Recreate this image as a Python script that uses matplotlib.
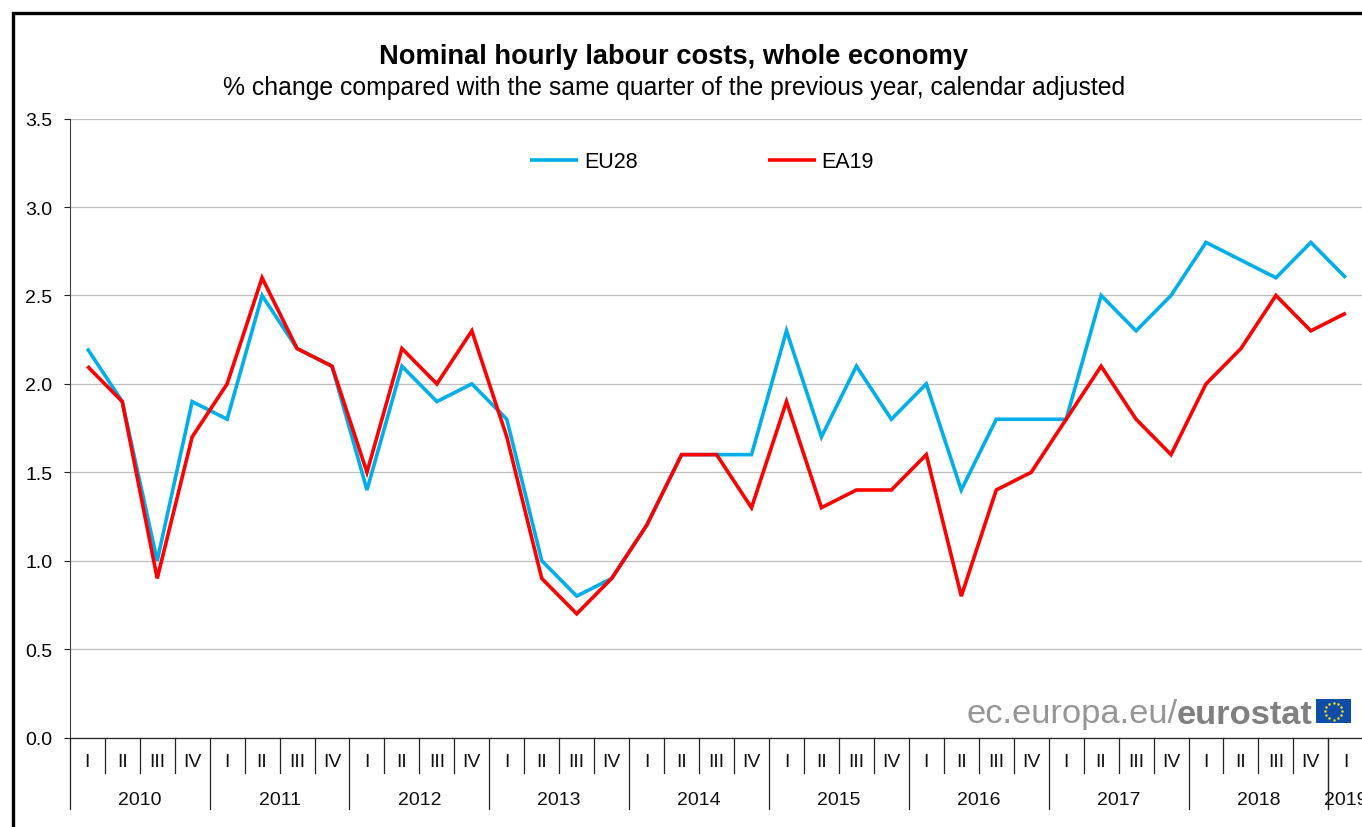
#!/usr/bin/env python

import matplotlib
matplotlib.use("agg")
matplotlib.rc("font", size=14, family=["Liberation Sans", "DejaVu Sans"])
import numpy as np
import matplotlib.pyplot as plt
from matplotlib.patches import Rectangle
from matplotlib.transforms import ScaledTranslation

W, H = 1362, 827

years = ["2010", "2011", "2012", "2013", "2014", "2015", "2016", "2017", "2018", "2019"]
quarters = ["I", "II", "III", "IV"] * 9 + ["I"]
eu28 = [2.2, 1.9, 1.0, 1.9, 1.8, 2.5, 2.2, 2.1, 1.4, 2.1, 1.9, 2.0,
        1.8, 1.0, 0.8, 0.9, 1.2, 1.6, 1.6, 1.6, 2.3, 1.7, 2.1, 1.8,
        2.0, 1.4, 1.8, 1.8, 1.8, 2.5, 2.3, 2.5, 2.8, 2.7, 2.6, 2.8, 2.6]
ea19 = [2.1, 1.9, 0.9, 1.7, 2.0, 2.6, 2.2, 2.1, 1.5, 2.2, 2.0, 2.3,
        1.7, 0.9, 0.7, 0.9, 1.2, 1.6, 1.6, 1.3, 1.9, 1.3, 1.4, 1.4,
        1.6, 0.8, 1.4, 1.5, 1.8, 2.1, 1.8, 1.6, 2.0, 2.2, 2.5, 2.3, 2.4]
yticks = [0.0, 0.5, 1.0, 1.5, 2.0, 2.5, 3.0, 3.5]


def fx(px):
    return px / W


def fy(py):
    return 1 - py / H


def main():
    fig = plt.figure(figsize=(W / 100, H / 100), dpi=100)

    # axes run past the right edge, the 2019 label is cut off like the original
    left, right, top, bottom = 69.8, 69.8 + 37 * 34.96, 118.6, 737.6
    ax = fig.add_axes([fx(left), fy(bottom), (right - left) / W, (bottom - top) / H])

    xx = np.arange(len(eu28)) + 0.5
    ax.plot(xx, eu28, color="#00AEEA", lw=2.6, label="EU28", solid_joinstyle="miter",
            solid_capstyle="butt")
    ax.plot(xx, ea19, color="#FF0000", lw=2.6, label="EA19", solid_joinstyle="miter",
            solid_capstyle="butt")

    ax.set_xlim(0, len(eu28))
    ax.set_ylim(0, 3.5)
    ax.set_yticks(yticks)
    ax.set_yticklabels(["%.1f" % t for t in yticks], fontsize=14)
    ax.tick_params(axis="y", length=4.5, width=0.8, pad=8, color="#222222")
    nudge = ScaledTranslation(0, -1 / 100, fig.dpi_scale_trans)
    for lab in ax.get_yticklabels():
        lab.set_transform(lab.get_transform() + nudge)
    ax.set_xticks([])
    ax.grid(axis="y", color="#BEBEBE", lw=0.9)
    ax.set_axisbelow(True)
    for side in ["top", "right"]:
        ax.spines[side].set_visible(False)
    ax.spines["left"].set_color("#444444")
    ax.spines["left"].set_linewidth(0.8)
    ax.spines["bottom"].set_color("#222222")
    ax.spines["bottom"].set_linewidth(0.9)

    # two level category axis below the plot
    unit = 3.5 / (bottom - top)
    for i, q in enumerate(quarters):
        ax.text(i + 0.5, -25 * unit, q, ha="center", va="center", fontsize=14, color="#111111")
        if i % 4 == 0:
            ax.plot([i, i], [0, -71 * unit], color="#222222", lw=0.9, clip_on=False)
        else:
            ax.plot([i, i], [0, -35 * unit], color="#222222", lw=0.9, clip_on=False)
    for j, y in enumerate(years):
        cx = j * 4 + 2 if y != "2019" else 36.5
        ax.text(cx, -63 * unit, y, ha="center", va="center", fontsize=14, color="#111111")
    ax.plot([36, 36], [0, -71 * unit], color="#222222", lw=0.9, clip_on=False)

    ax.legend(loc="center left", bbox_to_anchor=(fx(530), fy(162)),
              bbox_transform=fig.transFigure, ncol=2, frameon=False, fontsize=15.5,
              borderpad=0, borderaxespad=0, handlelength=2.23, handletextpad=0.28,
              columnspacing=6.04)

    fig.text(fx(673.5), fy(57), "Nominal hourly labour costs, whole economy",
             ha="center", va="center", fontsize=19.6, fontweight="bold")
    fig.text(fx(674.5), fy(88), "% change compared with the same quarter of the previous year, calendar adjusted",
             ha="center", va="center", fontsize=17.8)

    # watermark
    fig.text(fx(966), fy(715), "ec.europa.eu/", ha="left", va="center", fontsize=24.8, color="#969696")
    fig.text(fx(1312), fy(715), "eurostat", ha="right", va="center", fontsize=24.8,
             fontweight="bold", color="#808080")
    fig.add_artist(Rectangle((fx(1316), fy(723)), 35 / W, 24 / H, transform=fig.transFigure,
                             facecolor="#0F4DA8", edgecolor="none"))
    ang = np.arange(12) * np.pi / 6
    fig.add_artist(plt.Line2D(fx(1333.5 + 8.5 * np.cos(ang)), fy(711 + 8.5 * np.sin(ang)),
                              transform=fig.transFigure, ls="none", marker="o", ms=1.8,
                              color="#F5D90A", mew=0))

    # chart frame, only top and left are inside the picture
    fig.add_artist(plt.Line2D([fx(13), fx(13), fx(1362)], [0, fy(12.5), fy(12.5)],
                              transform=fig.transFigure, color="black", lw=2.4,
                              solid_joinstyle="miter"))

    fig.savefig("out.png", dpi=100)


if __name__ == "__main__":
    main()
